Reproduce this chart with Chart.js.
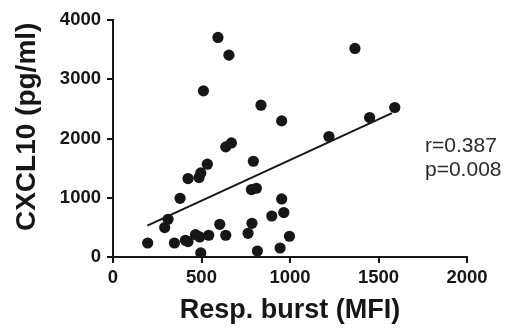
<!DOCTYPE html>
<html>
<head>
<meta charset="utf-8">
<script src="https://cdn.jsdelivr.net/npm/chart.js@4/dist/chart.umd.min.js"></script>
<style>
  html, body { margin: 0; padding: 0; background: #fff; }
  #wrap { width: 510px; height: 329px; position: relative; }
</style>
</head>
<body>
<div id="wrap"><canvas id="chart"></canvas></div>
<script>
// Resp. burst (MFI) vs CXCL10 (pg/ml)
const burstValues = [593, 655, 511, 836, 953, 1367, 1220, 637, 669, 793,
  533, 496, 486, 424, 782, 810, 379, 953, 965, 897,
  311, 292, 785, 603, 196, 347, 409, 424, 466, 490,
  541, 637, 763, 997, 496, 816, 944, 1592, 1450];
const cxclValues = [3706, 3407, 2804, 2562, 2297, 3520, 2034, 1858, 1925, 1616,
  1566, 1419, 1341, 1324, 1138, 1160, 991, 980, 750, 692,
  637, 497, 569, 552, 236, 236, 282, 260, 378, 338,
  367, 367, 400, 350, 68, 101, 152, 2523, 2354];

// regression line end points
const fitX = [194, 1576];
const fitY = [529, 2427];

const xTicks = [0, 500, 1000, 1500, 2000];
const yTicks = [0, 1000, 2000, 3000, 4000];
const statLines = ['r=0.387', 'p=0.008'];

const ink = '#161616';
const fontFamily = '"Liberation Sans", Arial, Helvetica, sans-serif';

const points = burstValues.map((x, i) => ({x: x, y: cxclValues[i]}));
const fitPoints = fitX.map((x, i) => ({x: x, y: fitY[i]}));

const statsText = {
  id: 'statsText',
  afterDraw(chart) {
    const ctx = chart.ctx;
    const area = chart.chartArea;
    ctx.save();
    ctx.fillStyle = '#2a2a2a';
    ctx.font = '21px ' + fontFamily;
    ctx.textBaseline = 'alphabetic';
    statLines.forEach((t, i) => {
      ctx.fillText(t, area.right - 42, 152 + i * 24);
    });
    ctx.restore();
  }
};

function axisStyle(titleText, isY) {
  return {
    type: 'linear',
    min: isY ? yTicks[0] : xTicks[0],
    max: isY ? yTicks[yTicks.length - 1] : xTicks[xTicks.length - 1],
    afterBuildTicks(scale) {
      scale.ticks = (isY ? yTicks : xTicks).map(v => ({value: v}));
    },
    afterFit(scale) {
      if (isY) scale.width = 113;
      else scale.height = 72;
    },
    border: {display: true, color: ink, width: 2},
    grid: {
      display: true,
      drawOnChartArea: false,
      drawTicks: true,
      tickLength: 6,
      color: ink,
      lineWidth: 2
    },
    ticks: {
      color: ink,
      padding: isY ? 6 : 4,
      maxRotation: 0,
      font: {family: fontFamily, size: 18.5, weight: 'bold'},
      callback: v => String(v)
    },
    title: {
      display: true,
      text: titleText,
      color: ink,
      padding: isY ? {top: 10, bottom: 0} : {top: 0, bottom: 2},
      font: {family: fontFamily, size: isY ? 28 : 27, weight: 'bold'}
    }
  };
}

new Chart(document.getElementById('chart'), {
  type: 'scatter',
  data: {
    datasets: [
      {
        label: 'CXCL10',
        data: points,
        backgroundColor: ink,
        borderWidth: 0,
        pointRadius: 5.6,
        pointHoverRadius: 5.6
      },
      {
        type: 'line',
        label: 'fit',
        data: fitPoints,
        borderColor: ink,
        borderWidth: 2,
        pointRadius: 0,
        fill: false
      }
    ]
  },
  options: {
    responsive: true,
    maintainAspectRatio: false,
    animation: false,
    layout: {padding: {top: 20, right: 43, bottom: 0, left: 0}},
    plugins: {
      legend: {display: false},
      tooltip: {enabled: false}
    },
    scales: {
      x: axisStyle('Resp. burst (MFI)', false),
      // leading spaces nudge the rotated title up, as in the figure
      y: axisStyle('   CXCL10 (pg/ml)', true)
    }
  },
  plugins: [statsText]
});
</script>
</body>
</html>
